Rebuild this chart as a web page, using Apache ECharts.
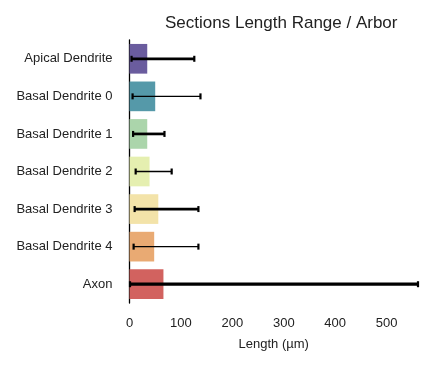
<!DOCTYPE html>
<html>
<head>
<meta charset="utf-8">
<script src="https://cdn.jsdelivr.net/npm/echarts@6/dist/echarts.min.js"></script>
<style>html,body{margin:0;padding:0;background:#fff}#c{width:447px;height:367px}</style>
</head>
<body>
<div id="c"></div>
<script>
const categories = ['Apical Dendrite','Basal Dendrite 0','Basal Dendrite 1','Basal Dendrite 2','Basal Dendrite 3','Basal Dendrite 4','Axon'];
const meanLength = [34.5, 50, 34.5, 39, 56, 48, 66];
const minLength = [4, 6, 7, 12, 10, 8, 1];
const maxLength = [126, 138, 68, 82, 134, 134, 561];
const xTicks = [0, 100, 200, 300, 400, 500];

const barColors = ['#6a5c9e','#5599a9','#abd5ab','#e5efb0','#f3e3a9','#e9aa73','#d2625f'];
const errWidths = [2.7, 1.3, 2.7, 1.5, 2.7, 1.3, 3.3];

const chart = echarts.init(document.getElementById('c'), null, {renderer:'canvas'});
const font = 'Liberation Sans, Arial, sans-serif';
chart.setOption({
  animation: false,
  title: {text: 'Sections Length Range / Arbor', left: 160, top: 10,
    textStyle: {fontFamily: font, fontSize: 17, fontWeight: 'normal', color: '#222'}},
  grid: {left: 129.5, right: 29, top: 40, bottom: 64},
  xAxis: {type: 'value', min: 0, max: 561, interval: 100,
    axisLine: {show: false}, axisTick: {show: false}, splitLine: {show: false},
    axisLabel: {fontFamily: font, fontSize: 13, color: '#222', margin: 14,
      showMaxLabel: false, formatter: v => xTicks.indexOf(v) >= 0 ? String(v) : ''},
    name: 'Length (µm)', nameLocation: 'middle', nameGap: 35,
    nameTextStyle: {fontFamily: font, fontSize: 13, color: '#222', verticalAlign: 'top'}},
  yAxis: {type: 'category', data: categories, inverse: true,
    axisLine: {show: true, lineStyle: {color: '#000', width: 1.3}},
    axisTick: {show: false},
    axisLabel: {fontFamily: font, fontSize: 13, color: '#222', margin: 17}},
  series: [{
    type: 'bar', barCategoryGap: '21%',
    data: meanLength.map((v, i) => ({value: v, itemStyle: {color: barColors[i]}}))
  }, {
    type: 'custom',
    data: categories.map((c, i) => [i, minLength[i], maxLength[i]]),
    encode: {x: [1, 2], y: 0},
    z: 5,
    renderItem: function (params, api) {
      const i = api.value(0);
      const p1 = api.coord([api.value(1), i]);
      const p2 = api.coord([api.value(2), i]);
      const w = errWidths[i];
      const st = {stroke: '#000', lineWidth: w};
      const capSt = {stroke: '#000', lineWidth: 2.2};
      const h = 3;
      return {type: 'group', children: [
        {type: 'line', shape: {x1: p1[0], y1: p1[1], x2: p2[0], y2: p2[1]}, style: st},
        {type: 'line', shape: {x1: p1[0], y1: p1[1]-h, x2: p1[0], y2: p1[1]+h}, style: capSt},
        {type: 'line', shape: {x1: p2[0], y1: p2[1]-h, x2: p2[0], y2: p2[1]+h}, style: capSt}
      ]};
    }
  }]
});
</script>
</body>
</html>
